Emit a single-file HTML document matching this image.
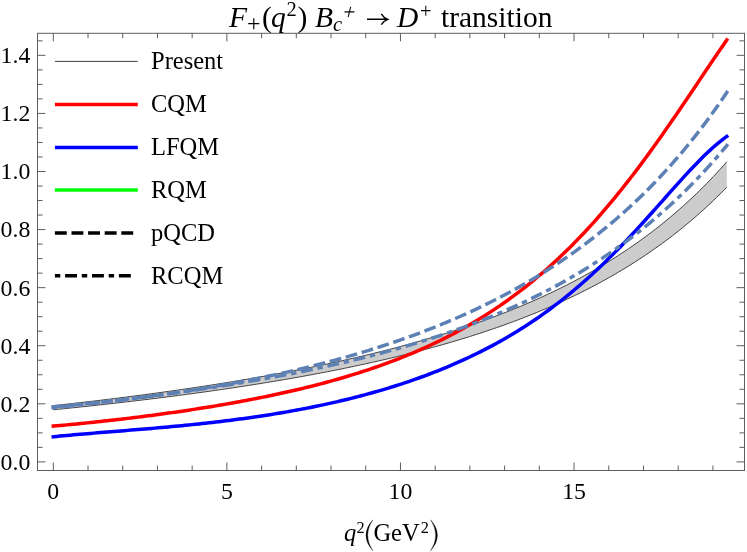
<!DOCTYPE html>
<html><head><meta charset="utf-8"><title>F+(q2) Bc+ to D+ transition</title>
<style>
html,body{margin:0;padding:0;background:#ffffff;}
body{width:747px;height:552px;overflow:hidden;}
svg{display:block;will-change:transform;}
text{font-family:"Liberation Serif",serif;fill:#000;}
</style></head><body>
<svg width="747" height="552" viewBox="0 0 747 552">
<rect x="0" y="0" width="747" height="552" fill="#ffffff"/>
<path d="M53.30,405.67 L56.68,405.30 L60.07,404.93 L63.45,404.55 L66.84,404.17 L70.22,403.79 L73.61,403.41 L76.99,403.02 L80.37,402.63 L83.76,402.24 L87.14,401.84 L90.53,401.45 L93.91,401.04 L97.30,400.64 L100.68,400.23 L104.07,399.82 L107.45,399.41 L110.83,398.99 L114.22,398.57 L117.60,398.15 L120.99,397.73 L124.37,397.30 L127.76,396.86 L131.14,396.43 L134.52,395.99 L137.91,395.55 L141.29,395.10 L144.68,394.65 L148.06,394.20 L151.45,393.74 L154.83,393.28 L158.22,392.82 L161.60,392.35 L164.98,391.88 L168.37,391.41 L171.75,390.93 L175.14,390.45 L178.52,389.96 L181.91,389.47 L185.29,388.98 L188.67,388.48 L192.06,387.98 L195.44,387.47 L198.83,386.96 L202.21,386.45 L205.60,385.93 L208.98,385.41 L212.37,384.88 L215.75,384.35 L219.13,383.81 L222.52,383.27 L225.90,382.73 L229.29,382.18 L232.67,381.62 L236.06,381.06 L239.44,380.50 L242.82,379.93 L246.21,379.36 L249.59,378.78 L252.98,378.19 L256.36,377.60 L259.75,377.01 L263.13,376.41 L266.52,375.80 L269.90,375.19 L273.28,374.58 L276.67,373.95 L280.05,373.33 L283.44,372.69 L286.82,372.05 L290.21,371.41 L293.59,370.76 L296.97,370.10 L300.36,369.44 L303.74,368.77 L307.13,368.09 L310.51,367.41 L313.90,366.72 L317.28,366.02 L320.67,365.32 L324.05,364.61 L327.43,363.89 L330.82,363.17 L334.20,362.44 L337.59,361.70 L340.97,360.95 L344.36,360.20 L347.74,359.44 L351.12,358.67 L354.51,357.89 L357.89,357.10 L361.28,356.31 L364.66,355.51 L368.05,354.70 L371.43,353.88 L374.82,353.05 L378.20,352.21 L381.58,351.36 L384.97,350.51 L388.35,349.64 L391.74,348.77 L395.12,347.88 L398.51,346.99 L401.89,346.09 L405.27,345.17 L408.66,344.25 L412.04,343.31 L415.43,342.36 L418.81,341.40 L422.20,340.44 L425.58,339.46 L428.97,338.46 L432.35,337.46 L435.73,336.44 L439.12,335.42 L442.50,334.38 L445.89,333.32 L449.27,332.26 L452.66,331.18 L456.04,330.08 L459.42,328.98 L462.81,327.86 L466.19,326.72 L469.58,325.57 L472.96,324.41 L476.35,323.23 L479.73,322.04 L483.12,320.83 L486.50,319.60 L489.88,318.36 L493.27,317.10 L496.65,315.83 L500.04,314.54 L503.42,313.23 L506.81,311.90 L510.19,310.55 L513.57,309.19 L516.96,307.81 L520.34,306.41 L523.73,304.99 L527.11,303.54 L530.50,302.08 L533.88,300.60 L537.27,299.10 L540.65,297.57 L544.03,296.02 L547.42,294.45 L550.80,292.86 L554.19,291.24 L557.57,289.60 L560.96,287.94 L564.34,286.25 L567.72,284.53 L571.11,282.79 L574.49,281.02 L577.88,279.23 L581.26,277.41 L584.65,275.56 L588.03,273.68 L591.42,271.77 L594.80,269.83 L598.18,267.86 L601.57,265.86 L604.95,263.82 L608.34,261.76 L611.72,259.66 L615.11,257.52 L618.49,255.36 L621.87,253.15 L625.26,250.91 L628.64,248.63 L632.03,246.31 L635.41,243.96 L638.80,241.56 L642.18,239.13 L645.57,236.65 L648.95,234.13 L652.33,231.56 L655.72,228.96 L659.10,226.30 L662.49,223.60 L665.87,220.85 L669.26,218.05 L672.64,215.21 L676.02,212.31 L679.41,209.35 L682.79,206.35 L686.18,203.29 L689.56,200.17 L692.95,197.00 L696.33,193.77 L699.72,190.47 L703.10,187.12 L706.48,183.70 L709.87,180.22 L713.25,176.67 L716.64,173.05 L720.02,169.37 L723.41,165.61 L726.79,161.78 L726.79,187.27 L723.41,190.71 L720.02,194.10 L716.64,197.42 L713.25,200.68 L709.87,203.88 L706.48,207.02 L703.10,210.11 L699.72,213.14 L696.33,216.12 L692.95,219.04 L689.56,221.91 L686.18,224.74 L682.79,227.51 L679.41,230.24 L676.02,232.91 L672.64,235.55 L669.26,238.13 L665.87,240.68 L662.49,243.18 L659.10,245.63 L655.72,248.05 L652.33,250.42 L648.95,252.76 L645.57,255.06 L642.18,257.32 L638.80,259.54 L635.41,261.73 L632.03,263.88 L628.64,265.99 L625.26,268.07 L621.87,270.12 L618.49,272.14 L615.11,274.12 L611.72,276.07 L608.34,277.99 L604.95,279.88 L601.57,281.75 L598.18,283.58 L594.80,285.38 L591.42,287.16 L588.03,288.91 L584.65,290.63 L581.26,292.33 L577.88,294.00 L574.49,295.65 L571.11,297.27 L567.72,298.87 L564.34,300.44 L560.96,301.99 L557.57,303.52 L554.19,305.03 L550.80,306.51 L547.42,307.98 L544.03,309.42 L540.65,310.84 L537.27,312.24 L533.88,313.63 L530.50,314.99 L527.11,316.33 L523.73,317.66 L520.34,318.96 L516.96,320.25 L513.57,321.52 L510.19,322.78 L506.81,324.01 L503.42,325.23 L500.04,326.44 L496.65,327.62 L493.27,328.80 L489.88,329.95 L486.50,331.09 L483.12,332.22 L479.73,333.33 L476.35,334.43 L472.96,335.51 L469.58,336.58 L466.19,337.64 L462.81,338.68 L459.42,339.71 L456.04,340.73 L452.66,341.73 L449.27,342.72 L445.89,343.70 L442.50,344.67 L439.12,345.62 L435.73,346.57 L432.35,347.50 L428.97,348.42 L425.58,349.33 L422.20,350.23 L418.81,351.12 L415.43,352.00 L412.04,352.87 L408.66,353.73 L405.27,354.58 L401.89,355.41 L398.51,356.24 L395.12,357.06 L391.74,357.87 L388.35,358.68 L384.97,359.47 L381.58,360.25 L378.20,361.03 L374.82,361.79 L371.43,362.55 L368.05,363.30 L364.66,364.04 L361.28,364.78 L357.89,365.50 L354.51,366.22 L351.12,366.93 L347.74,367.64 L344.36,368.33 L340.97,369.02 L337.59,369.70 L334.20,370.38 L330.82,371.05 L327.43,371.71 L324.05,372.36 L320.67,373.01 L317.28,373.65 L313.90,374.29 L310.51,374.92 L307.13,375.54 L303.74,376.16 L300.36,376.77 L296.97,377.37 L293.59,377.97 L290.21,378.56 L286.82,379.15 L283.44,379.73 L280.05,380.31 L276.67,380.88 L273.28,381.45 L269.90,382.01 L266.52,382.56 L263.13,383.12 L259.75,383.66 L256.36,384.20 L252.98,384.74 L249.59,385.27 L246.21,385.80 L242.82,386.32 L239.44,386.84 L236.06,387.35 L232.67,387.86 L229.29,388.36 L225.90,388.86 L222.52,389.36 L219.13,389.85 L215.75,390.34 L212.37,390.82 L208.98,391.30 L205.60,391.77 L202.21,392.25 L198.83,392.71 L195.44,393.18 L192.06,393.64 L188.67,394.09 L185.29,394.55 L181.91,394.99 L178.52,395.44 L175.14,395.88 L171.75,396.32 L168.37,396.75 L164.98,397.19 L161.60,397.61 L158.22,398.04 L154.83,398.46 L151.45,398.88 L148.06,399.30 L144.68,399.71 L141.29,400.12 L137.91,400.52 L134.52,400.93 L131.14,401.33 L127.76,401.72 L124.37,402.12 L120.99,402.51 L117.60,402.90 L114.22,403.28 L110.83,403.67 L107.45,404.05 L104.07,404.42 L100.68,404.80 L97.30,405.17 L93.91,405.54 L90.53,405.91 L87.14,406.27 L83.76,406.63 L80.37,406.99 L76.99,407.35 L73.61,407.71 L70.22,408.06 L66.84,408.41 L63.45,408.75 L60.07,409.10 L56.68,409.44 L53.30,409.78 Z" fill="#cccccc" stroke="none"/>
<path d="M53.30,405.67 L56.68,405.30 L60.07,404.93 L63.45,404.55 L66.84,404.17 L70.22,403.79 L73.61,403.41 L76.99,403.02 L80.37,402.63 L83.76,402.24 L87.14,401.84 L90.53,401.45 L93.91,401.04 L97.30,400.64 L100.68,400.23 L104.07,399.82 L107.45,399.41 L110.83,398.99 L114.22,398.57 L117.60,398.15 L120.99,397.73 L124.37,397.30 L127.76,396.86 L131.14,396.43 L134.52,395.99 L137.91,395.55 L141.29,395.10 L144.68,394.65 L148.06,394.20 L151.45,393.74 L154.83,393.28 L158.22,392.82 L161.60,392.35 L164.98,391.88 L168.37,391.41 L171.75,390.93 L175.14,390.45 L178.52,389.96 L181.91,389.47 L185.29,388.98 L188.67,388.48 L192.06,387.98 L195.44,387.47 L198.83,386.96 L202.21,386.45 L205.60,385.93 L208.98,385.41 L212.37,384.88 L215.75,384.35 L219.13,383.81 L222.52,383.27 L225.90,382.73 L229.29,382.18 L232.67,381.62 L236.06,381.06 L239.44,380.50 L242.82,379.93 L246.21,379.36 L249.59,378.78 L252.98,378.19 L256.36,377.60 L259.75,377.01 L263.13,376.41 L266.52,375.80 L269.90,375.19 L273.28,374.58 L276.67,373.95 L280.05,373.33 L283.44,372.69 L286.82,372.05 L290.21,371.41 L293.59,370.76 L296.97,370.10 L300.36,369.44 L303.74,368.77 L307.13,368.09 L310.51,367.41 L313.90,366.72 L317.28,366.02 L320.67,365.32 L324.05,364.61 L327.43,363.89 L330.82,363.17 L334.20,362.44 L337.59,361.70 L340.97,360.95 L344.36,360.20 L347.74,359.44 L351.12,358.67 L354.51,357.89 L357.89,357.10 L361.28,356.31 L364.66,355.51 L368.05,354.70 L371.43,353.88 L374.82,353.05 L378.20,352.21 L381.58,351.36 L384.97,350.51 L388.35,349.64 L391.74,348.77 L395.12,347.88 L398.51,346.99 L401.89,346.09 L405.27,345.17 L408.66,344.25 L412.04,343.31 L415.43,342.36 L418.81,341.40 L422.20,340.44 L425.58,339.46 L428.97,338.46 L432.35,337.46 L435.73,336.44 L439.12,335.42 L442.50,334.38 L445.89,333.32 L449.27,332.26 L452.66,331.18 L456.04,330.08 L459.42,328.98 L462.81,327.86 L466.19,326.72 L469.58,325.57 L472.96,324.41 L476.35,323.23 L479.73,322.04 L483.12,320.83 L486.50,319.60 L489.88,318.36 L493.27,317.10 L496.65,315.83 L500.04,314.54 L503.42,313.23 L506.81,311.90 L510.19,310.55 L513.57,309.19 L516.96,307.81 L520.34,306.41 L523.73,304.99 L527.11,303.54 L530.50,302.08 L533.88,300.60 L537.27,299.10 L540.65,297.57 L544.03,296.02 L547.42,294.45 L550.80,292.86 L554.19,291.24 L557.57,289.60 L560.96,287.94 L564.34,286.25 L567.72,284.53 L571.11,282.79 L574.49,281.02 L577.88,279.23 L581.26,277.41 L584.65,275.56 L588.03,273.68 L591.42,271.77 L594.80,269.83 L598.18,267.86 L601.57,265.86 L604.95,263.82 L608.34,261.76 L611.72,259.66 L615.11,257.52 L618.49,255.36 L621.87,253.15 L625.26,250.91 L628.64,248.63 L632.03,246.31 L635.41,243.96 L638.80,241.56 L642.18,239.13 L645.57,236.65 L648.95,234.13 L652.33,231.56 L655.72,228.96 L659.10,226.30 L662.49,223.60 L665.87,220.85 L669.26,218.05 L672.64,215.21 L676.02,212.31 L679.41,209.35 L682.79,206.35 L686.18,203.29 L689.56,200.17 L692.95,197.00 L696.33,193.77 L699.72,190.47 L703.10,187.12 L706.48,183.70 L709.87,180.22 L713.25,176.67 L716.64,173.05 L720.02,169.37 L723.41,165.61 L726.79,161.78" fill="none" stroke="#303030" stroke-width="0.9"/>
<path d="M53.30,409.78 L56.68,409.44 L60.07,409.10 L63.45,408.75 L66.84,408.41 L70.22,408.06 L73.61,407.71 L76.99,407.35 L80.37,406.99 L83.76,406.63 L87.14,406.27 L90.53,405.91 L93.91,405.54 L97.30,405.17 L100.68,404.80 L104.07,404.42 L107.45,404.05 L110.83,403.67 L114.22,403.28 L117.60,402.90 L120.99,402.51 L124.37,402.12 L127.76,401.72 L131.14,401.33 L134.52,400.93 L137.91,400.52 L141.29,400.12 L144.68,399.71 L148.06,399.30 L151.45,398.88 L154.83,398.46 L158.22,398.04 L161.60,397.61 L164.98,397.19 L168.37,396.75 L171.75,396.32 L175.14,395.88 L178.52,395.44 L181.91,394.99 L185.29,394.55 L188.67,394.09 L192.06,393.64 L195.44,393.18 L198.83,392.71 L202.21,392.25 L205.60,391.77 L208.98,391.30 L212.37,390.82 L215.75,390.34 L219.13,389.85 L222.52,389.36 L225.90,388.86 L229.29,388.36 L232.67,387.86 L236.06,387.35 L239.44,386.84 L242.82,386.32 L246.21,385.80 L249.59,385.27 L252.98,384.74 L256.36,384.20 L259.75,383.66 L263.13,383.12 L266.52,382.56 L269.90,382.01 L273.28,381.45 L276.67,380.88 L280.05,380.31 L283.44,379.73 L286.82,379.15 L290.21,378.56 L293.59,377.97 L296.97,377.37 L300.36,376.77 L303.74,376.16 L307.13,375.54 L310.51,374.92 L313.90,374.29 L317.28,373.65 L320.67,373.01 L324.05,372.36 L327.43,371.71 L330.82,371.05 L334.20,370.38 L337.59,369.70 L340.97,369.02 L344.36,368.33 L347.74,367.64 L351.12,366.93 L354.51,366.22 L357.89,365.50 L361.28,364.78 L364.66,364.04 L368.05,363.30 L371.43,362.55 L374.82,361.79 L378.20,361.03 L381.58,360.25 L384.97,359.47 L388.35,358.68 L391.74,357.87 L395.12,357.06 L398.51,356.24 L401.89,355.41 L405.27,354.58 L408.66,353.73 L412.04,352.87 L415.43,352.00 L418.81,351.12 L422.20,350.23 L425.58,349.33 L428.97,348.42 L432.35,347.50 L435.73,346.57 L439.12,345.62 L442.50,344.67 L445.89,343.70 L449.27,342.72 L452.66,341.73 L456.04,340.73 L459.42,339.71 L462.81,338.68 L466.19,337.64 L469.58,336.58 L472.96,335.51 L476.35,334.43 L479.73,333.33 L483.12,332.22 L486.50,331.09 L489.88,329.95 L493.27,328.80 L496.65,327.62 L500.04,326.44 L503.42,325.23 L506.81,324.01 L510.19,322.78 L513.57,321.52 L516.96,320.25 L520.34,318.96 L523.73,317.66 L527.11,316.33 L530.50,314.99 L533.88,313.63 L537.27,312.24 L540.65,310.84 L544.03,309.42 L547.42,307.98 L550.80,306.51 L554.19,305.03 L557.57,303.52 L560.96,301.99 L564.34,300.44 L567.72,298.87 L571.11,297.27 L574.49,295.65 L577.88,294.00 L581.26,292.33 L584.65,290.63 L588.03,288.91 L591.42,287.16 L594.80,285.38 L598.18,283.58 L601.57,281.75 L604.95,279.88 L608.34,277.99 L611.72,276.07 L615.11,274.12 L618.49,272.14 L621.87,270.12 L625.26,268.07 L628.64,265.99 L632.03,263.88 L635.41,261.73 L638.80,259.54 L642.18,257.32 L645.57,255.06 L648.95,252.76 L652.33,250.42 L655.72,248.05 L659.10,245.63 L662.49,243.18 L665.87,240.68 L669.26,238.13 L672.64,235.55 L676.02,232.91 L679.41,230.24 L682.79,227.51 L686.18,224.74 L689.56,221.91 L692.95,219.04 L696.33,216.12 L699.72,213.14 L703.10,210.11 L706.48,207.02 L709.87,203.88 L713.25,200.68 L716.64,197.42 L720.02,194.10 L723.41,190.71 L726.79,187.27" fill="none" stroke="#303030" stroke-width="0.9"/>
<path d="M53.30,426.10 L56.68,425.80 L60.07,425.49 L63.45,425.18 L66.84,424.87 L70.22,424.55 L73.61,424.22 L76.99,423.89 L80.37,423.56 L83.76,423.22 L87.14,422.88 L90.53,422.53 L93.91,422.17 L97.30,421.82 L100.68,421.45 L104.07,421.08 L107.45,420.71 L110.83,420.33 L114.22,419.95 L117.60,419.56 L120.99,419.17 L124.37,418.77 L127.76,418.37 L131.14,417.96 L134.52,417.54 L137.91,417.12 L141.29,416.70 L144.68,416.27 L148.06,415.83 L151.45,415.39 L154.83,414.95 L158.22,414.49 L161.60,414.04 L164.98,413.57 L168.37,413.10 L171.75,412.63 L175.14,412.15 L178.52,411.66 L181.91,411.16 L185.29,410.66 L188.67,410.16 L192.06,409.64 L195.44,409.12 L198.83,408.60 L202.21,408.06 L205.60,407.52 L208.98,406.97 L212.37,406.42 L215.75,405.86 L219.13,405.29 L222.52,404.71 L225.90,404.13 L229.29,403.53 L232.67,402.93 L236.06,402.32 L239.44,401.70 L242.82,401.08 L246.21,400.44 L249.59,399.80 L252.98,399.15 L256.36,398.48 L259.75,397.81 L263.13,397.13 L266.52,396.44 L269.90,395.74 L273.28,395.03 L276.67,394.30 L280.05,393.57 L283.44,392.83 L286.82,392.07 L290.21,391.30 L293.59,390.52 L296.97,389.73 L300.36,388.93 L303.74,388.11 L307.13,387.29 L310.51,386.44 L313.90,385.59 L317.28,384.72 L320.67,383.84 L324.05,382.94 L327.43,382.03 L330.82,381.10 L334.20,380.16 L337.59,379.20 L340.97,378.23 L344.36,377.24 L347.74,376.23 L351.12,375.20 L354.51,374.16 L357.89,373.10 L361.28,372.02 L364.66,370.92 L368.05,369.81 L371.43,368.67 L374.82,367.51 L378.20,366.33 L381.58,365.14 L384.97,363.92 L388.35,362.67 L391.74,361.41 L395.12,360.12 L398.51,358.81 L401.89,357.47 L405.27,356.11 L408.66,354.73 L412.04,353.32 L415.43,351.88 L418.81,350.42 L422.20,348.92 L425.58,347.40 L428.97,345.86 L432.35,344.28 L435.73,342.67 L439.12,341.04 L442.50,339.37 L445.89,337.67 L449.27,335.93 L452.66,334.17 L456.04,332.37 L459.42,330.54 L462.81,328.67 L466.19,326.76 L469.58,324.82 L472.96,322.85 L476.35,320.83 L479.73,318.78 L483.12,316.68 L486.50,314.55 L489.88,312.38 L493.27,310.16 L496.65,307.91 L500.04,305.61 L503.42,303.26 L506.81,300.87 L510.19,298.44 L513.57,295.96 L516.96,293.44 L520.34,290.87 L523.73,288.25 L527.11,285.58 L530.50,282.86 L533.88,280.09 L537.27,277.27 L540.65,274.40 L544.03,271.48 L547.42,268.51 L550.80,265.48 L554.19,262.40 L557.57,259.27 L560.96,256.08 L564.34,252.83 L567.72,249.53 L571.11,246.18 L574.49,242.77 L577.88,239.30 L581.26,235.77 L584.65,232.19 L588.03,228.55 L591.42,224.85 L594.80,221.09 L598.18,217.28 L601.57,213.41 L604.95,209.48 L608.34,205.49 L611.72,201.45 L615.11,197.35 L618.49,193.19 L621.87,188.98 L625.26,184.71 L628.64,180.39 L632.03,176.02 L635.41,171.59 L638.80,167.11 L642.18,162.59 L645.57,158.01 L648.95,153.39 L652.33,148.72 L655.72,144.00 L659.10,139.25 L662.49,134.45 L665.87,129.62 L669.26,124.76 L672.64,119.86 L676.02,114.93 L679.41,109.97 L682.79,105.00 L686.18,100.00 L689.56,94.98 L692.95,89.96 L696.33,84.92 L699.72,79.88 L703.10,74.84 L706.48,69.81 L709.87,64.79 L713.25,59.78 L716.64,54.79 L720.02,49.82 L723.41,44.89 L726.79,40.00" fill="none" stroke="#ff0000" stroke-width="3.5" stroke-linecap="square" stroke-linejoin="round"/>
<path d="M53.30,436.72 L56.68,436.40 L60.07,436.08 L63.45,435.76 L66.84,435.46 L70.22,435.15 L73.61,434.85 L76.99,434.56 L80.37,434.26 L83.76,433.98 L87.14,433.69 L90.53,433.41 L93.91,433.13 L97.30,432.85 L100.68,432.57 L104.07,432.30 L107.45,432.02 L110.83,431.75 L114.22,431.48 L117.60,431.21 L120.99,430.93 L124.37,430.66 L127.76,430.38 L131.14,430.11 L134.52,429.83 L137.91,429.55 L141.29,429.27 L144.68,428.99 L148.06,428.70 L151.45,428.41 L154.83,428.12 L158.22,427.83 L161.60,427.53 L164.98,427.23 L168.37,426.92 L171.75,426.61 L175.14,426.29 L178.52,425.97 L181.91,425.64 L185.29,425.31 L188.67,424.98 L192.06,424.63 L195.44,424.28 L198.83,423.93 L202.21,423.57 L205.60,423.20 L208.98,422.82 L212.37,422.44 L215.75,422.05 L219.13,421.65 L222.52,421.25 L225.90,420.84 L229.29,420.42 L232.67,419.99 L236.06,419.55 L239.44,419.10 L242.82,418.65 L246.21,418.18 L249.59,417.71 L252.98,417.23 L256.36,416.74 L259.75,416.24 L263.13,415.73 L266.52,415.20 L269.90,414.67 L273.28,414.13 L276.67,413.58 L280.05,413.01 L283.44,412.44 L286.82,411.85 L290.21,411.26 L293.59,410.65 L296.97,410.03 L300.36,409.40 L303.74,408.75 L307.13,408.10 L310.51,407.43 L313.90,406.74 L317.28,406.05 L320.67,405.34 L324.05,404.62 L327.43,403.89 L330.82,403.14 L334.20,402.37 L337.59,401.60 L340.97,400.81 L344.36,400.00 L347.74,399.18 L351.12,398.34 L354.51,397.49 L357.89,396.62 L361.28,395.74 L364.66,394.84 L368.05,393.93 L371.43,392.99 L374.82,392.04 L378.20,391.08 L381.58,390.09 L384.97,389.09 L388.35,388.07 L391.74,387.03 L395.12,385.97 L398.51,384.89 L401.89,383.79 L405.27,382.67 L408.66,381.54 L412.04,380.38 L415.43,379.20 L418.81,377.99 L422.20,376.77 L425.58,375.52 L428.97,374.25 L432.35,372.96 L435.73,371.64 L439.12,370.30 L442.50,368.94 L445.89,367.54 L449.27,366.13 L452.66,364.68 L456.04,363.21 L459.42,361.71 L462.81,360.18 L466.19,358.63 L469.58,357.04 L472.96,355.43 L476.35,353.78 L479.73,352.11 L483.12,350.40 L486.50,348.66 L489.88,346.88 L493.27,345.08 L496.65,343.23 L500.04,341.36 L503.42,339.44 L506.81,337.49 L510.19,335.51 L513.57,333.48 L516.96,331.42 L520.34,329.32 L523.73,327.17 L527.11,324.99 L530.50,322.76 L533.88,320.50 L537.27,318.19 L540.65,315.83 L544.03,313.43 L547.42,310.99 L550.80,308.50 L554.19,305.97 L557.57,303.39 L560.96,300.76 L564.34,298.08 L567.72,295.36 L571.11,292.59 L574.49,289.77 L577.88,286.90 L581.26,283.98 L584.65,281.01 L588.03,277.99 L591.42,274.93 L594.80,271.81 L598.18,268.65 L601.57,265.44 L604.95,262.18 L608.34,258.87 L611.72,255.52 L615.11,252.12 L618.49,248.68 L621.87,245.19 L625.26,241.66 L628.64,238.10 L632.03,234.49 L635.41,230.86 L638.80,227.18 L642.18,223.48 L645.57,219.75 L648.95,216.00 L652.33,212.23 L655.72,208.44 L659.10,204.63 L662.49,200.83 L665.87,197.02 L669.26,193.21 L672.64,189.41 L676.02,185.63 L679.41,181.87 L682.79,178.14 L686.18,174.44 L689.56,170.79 L692.95,167.20 L696.33,163.67 L699.72,160.20 L703.10,156.83 L706.48,153.54 L709.87,150.36 L713.25,147.29 L716.64,144.34 L720.02,141.54 L723.41,138.89 L726.79,136.40" fill="none" stroke="#0000ff" stroke-width="3.5" stroke-linecap="square" stroke-linejoin="round"/>
<path d="M51.51,406.90 L53.30,406.75 L56.68,406.45 L60.07,406.15 L63.45,405.85 L66.84,405.54 L70.22,405.23 L73.61,404.91 L76.99,404.58 L80.37,404.25 L83.76,403.92 L87.14,403.57 L90.53,403.23 L93.91,402.88 L97.30,402.52 L100.68,402.16 L104.07,401.79 L107.45,401.42 L110.83,401.04 L114.22,400.65 L117.60,400.26 L120.99,399.87 L124.37,399.47 L127.76,399.06 L131.14,398.65 L134.52,398.23 L137.91,397.80 L141.29,397.37 L144.68,396.93 L148.06,396.49 L151.45,396.04 L154.83,395.58 L158.22,395.12 L161.60,394.65 L164.98,394.18 L168.37,393.69 L171.75,393.21 L175.14,392.71 L178.52,392.21 L181.91,391.70 L185.29,391.18 L188.67,390.66 L192.06,390.13 L195.44,389.60 L198.83,389.05 L202.21,388.50 L205.60,387.94 L208.98,387.38 L212.37,386.80 L215.75,386.22 L219.13,385.63 L222.52,385.04 L225.90,384.43 L229.29,383.82 L232.67,383.20 L236.06,382.57 L239.44,381.94 L242.82,381.29 L246.21,380.64 L249.59,379.98 L252.98,379.31 L256.36,378.63 L259.75,377.94 L263.13,377.25 L266.52,376.54 L269.90,375.83 L273.28,375.10 L276.67,374.37 L280.05,373.63 L283.44,372.88 L286.82,372.11 L290.21,371.34 L293.59,370.56 L296.97,369.77 L300.36,368.97 L303.74,368.16 L307.13,367.33 L310.51,366.50 L313.90,365.66 L317.28,364.80 L320.67,363.94 L324.05,363.06 L327.43,362.17 L330.82,361.27 L334.20,360.36 L337.59,359.44 L340.97,358.50 L344.36,357.56 L347.74,356.60 L351.12,355.63 L354.51,354.64 L357.89,353.64 L361.28,352.63 L364.66,351.61 L368.05,350.57 L371.43,349.52 L374.82,348.46 L378.20,347.38 L381.58,346.29 L384.97,345.19 L388.35,344.07 L391.74,342.93 L395.12,341.78 L398.51,340.61 L401.89,339.43 L405.27,338.24 L408.66,337.03 L412.04,335.80 L415.43,334.55 L418.81,333.29 L422.20,332.01 L425.58,330.72 L428.97,329.41 L432.35,328.08 L435.73,326.73 L439.12,325.36 L442.50,323.98 L445.89,322.58 L449.27,321.15 L452.66,319.71 L456.04,318.25 L459.42,316.77 L462.81,315.27 L466.19,313.75 L469.58,312.21 L472.96,310.64 L476.35,309.06 L479.73,307.45 L483.12,305.82 L486.50,304.17 L489.88,302.49 L493.27,300.79 L496.65,299.07 L500.04,297.32 L503.42,295.55 L506.81,293.75 L510.19,291.93 L513.57,290.08 L516.96,288.21 L520.34,286.31 L523.73,284.38 L527.11,282.42 L530.50,280.44 L533.88,278.42 L537.27,276.38 L540.65,274.31 L544.03,272.20 L547.42,270.07 L550.80,267.90 L554.19,265.71 L557.57,263.48 L560.96,261.21 L564.34,258.92 L567.72,256.59 L571.11,254.22 L574.49,251.82 L577.88,249.38 L581.26,246.91 L584.65,244.39 L588.03,241.84 L591.42,239.25 L594.80,236.62 L598.18,233.95 L601.57,231.24 L604.95,228.48 L608.34,225.69 L611.72,222.84 L615.11,219.96 L618.49,217.03 L621.87,214.05 L625.26,211.02 L628.64,207.95 L632.03,204.82 L635.41,201.65 L638.80,198.42 L642.18,195.15 L645.57,191.82 L648.95,188.43 L652.33,184.99 L655.72,181.49 L659.10,177.94 L662.49,174.32 L665.87,170.65 L669.26,166.91 L672.64,163.11 L676.02,159.25 L679.41,155.32 L682.79,151.32 L686.18,147.25 L689.56,143.12 L692.95,138.91 L696.33,134.63 L699.72,130.28 L703.10,125.85 L706.48,121.34 L709.87,116.76 L713.25,112.09 L716.64,107.34 L720.02,102.50 L723.41,97.58 L726.79,92.57 L727.80,91.08" fill="none" stroke="#5e81b5" stroke-width="3.5" stroke-dasharray="11.9 4.7" stroke-linejoin="round"/>
<path d="M51.51,408.06 L53.30,407.86 L56.68,407.50 L60.07,407.13 L63.45,406.76 L66.84,406.38 L70.22,406.01 L73.61,405.63 L76.99,405.25 L80.37,404.87 L83.76,404.48 L87.14,404.09 L90.53,403.70 L93.91,403.31 L97.30,402.91 L100.68,402.51 L104.07,402.11 L107.45,401.71 L110.83,401.30 L114.22,400.89 L117.60,400.47 L120.99,400.06 L124.37,399.64 L127.76,399.21 L131.14,398.79 L134.52,398.36 L137.91,397.93 L141.29,397.49 L144.68,397.05 L148.06,396.61 L151.45,396.16 L154.83,395.71 L158.22,395.26 L161.60,394.80 L164.98,394.34 L168.37,393.87 L171.75,393.40 L175.14,392.93 L178.52,392.45 L181.91,391.97 L185.29,391.49 L188.67,391.00 L192.06,390.50 L195.44,390.00 L198.83,389.50 L202.21,388.99 L205.60,388.48 L208.98,387.96 L212.37,387.44 L215.75,386.91 L219.13,386.38 L222.52,385.85 L225.90,385.30 L229.29,384.76 L232.67,384.20 L236.06,383.65 L239.44,383.08 L242.82,382.51 L246.21,381.94 L249.59,381.36 L252.98,380.77 L256.36,380.18 L259.75,379.58 L263.13,378.97 L266.52,378.36 L269.90,377.75 L273.28,377.12 L276.67,376.49 L280.05,375.85 L283.44,375.21 L286.82,374.56 L290.21,373.90 L293.59,373.23 L296.97,372.56 L300.36,371.88 L303.74,371.19 L307.13,370.50 L310.51,369.80 L313.90,369.08 L317.28,368.37 L320.67,367.64 L324.05,366.90 L327.43,366.16 L330.82,365.41 L334.20,364.64 L337.59,363.87 L340.97,363.10 L344.36,362.31 L347.74,361.51 L351.12,360.70 L354.51,359.88 L357.89,359.06 L361.28,358.22 L364.66,357.37 L368.05,356.52 L371.43,355.65 L374.82,354.77 L378.20,353.88 L381.58,352.98 L384.97,352.07 L388.35,351.15 L391.74,350.21 L395.12,349.27 L398.51,348.31 L401.89,347.34 L405.27,346.36 L408.66,345.36 L412.04,344.35 L415.43,343.33 L418.81,342.30 L422.20,341.25 L425.58,340.19 L428.97,339.11 L432.35,338.02 L435.73,336.92 L439.12,335.80 L442.50,334.66 L445.89,333.52 L449.27,332.35 L452.66,331.17 L456.04,329.98 L459.42,328.76 L462.81,327.53 L466.19,326.29 L469.58,325.03 L472.96,323.75 L476.35,322.45 L479.73,321.13 L483.12,319.80 L486.50,318.45 L489.88,317.08 L493.27,315.69 L496.65,314.28 L500.04,312.84 L503.42,311.39 L506.81,309.92 L510.19,308.43 L513.57,306.92 L516.96,305.38 L520.34,303.82 L523.73,302.25 L527.11,300.64 L530.50,299.02 L533.88,297.37 L537.27,295.69 L540.65,293.99 L544.03,292.27 L547.42,290.52 L550.80,288.75 L554.19,286.94 L557.57,285.12 L560.96,283.26 L564.34,281.38 L567.72,279.46 L571.11,277.52 L574.49,275.55 L577.88,273.55 L581.26,271.52 L584.65,269.46 L588.03,267.37 L591.42,265.24 L594.80,263.08 L598.18,260.89 L601.57,258.67 L604.95,256.41 L608.34,254.11 L611.72,251.78 L615.11,249.42 L618.49,247.01 L621.87,244.57 L625.26,242.09 L628.64,239.57 L632.03,237.01 L635.41,234.41 L638.80,231.76 L642.18,229.08 L645.57,226.35 L648.95,223.58 L652.33,220.76 L655.72,217.90 L659.10,214.99 L662.49,212.03 L665.87,209.03 L669.26,205.98 L672.64,202.87 L676.02,199.72 L679.41,196.51 L682.79,193.25 L686.18,189.94 L689.56,186.57 L692.95,183.14 L696.33,179.66 L699.72,176.12 L703.10,172.52 L706.48,168.86 L709.87,165.14 L713.25,161.36 L716.64,157.51 L720.02,153.59 L723.41,149.61 L726.79,145.56 L727.94,144.18" fill="none" stroke="#5e81b5" stroke-width="3.5" stroke-dasharray="5.4 4.8 11.9 4.8" stroke-linejoin="round"/>
<rect x="37.5" y="33.3" width="707.0" height="437.2" fill="none" stroke="#5e5e5e" stroke-width="1"/>
<path d="M53.30,470.50 v-8.00 M53.30,33.30 v8.00 M88.02,470.50 v-5.00 M88.02,33.30 v5.00 M122.73,470.50 v-5.00 M122.73,33.30 v5.00 M157.45,470.50 v-5.00 M157.45,33.30 v5.00 M192.16,470.50 v-5.00 M192.16,33.30 v5.00 M226.88,470.50 v-8.00 M226.88,33.30 v8.00 M261.60,470.50 v-5.00 M261.60,33.30 v5.00 M296.31,470.50 v-5.00 M296.31,33.30 v5.00 M331.03,470.50 v-5.00 M331.03,33.30 v5.00 M365.74,470.50 v-5.00 M365.74,33.30 v5.00 M400.46,470.50 v-8.00 M400.46,33.30 v8.00 M435.18,470.50 v-5.00 M435.18,33.30 v5.00 M469.89,470.50 v-5.00 M469.89,33.30 v5.00 M504.61,470.50 v-5.00 M504.61,33.30 v5.00 M539.32,470.50 v-5.00 M539.32,33.30 v5.00 M574.04,470.50 v-8.00 M574.04,33.30 v8.00 M608.76,470.50 v-5.00 M608.76,33.30 v5.00 M643.47,470.50 v-5.00 M643.47,33.30 v5.00 M678.19,470.50 v-5.00 M678.19,33.30 v5.00 M712.90,470.50 v-5.00 M712.90,33.30 v5.00 M37.50,461.90 h8.00 M744.50,461.90 h-8.00 M37.50,447.38 h5.00 M744.50,447.38 h-5.00 M37.50,432.86 h5.00 M744.50,432.86 h-5.00 M37.50,418.34 h5.00 M744.50,418.34 h-5.00 M37.50,403.82 h8.00 M744.50,403.82 h-8.00 M37.50,389.30 h5.00 M744.50,389.30 h-5.00 M37.50,374.78 h5.00 M744.50,374.78 h-5.00 M37.50,360.26 h5.00 M744.50,360.26 h-5.00 M37.50,345.74 h8.00 M744.50,345.74 h-8.00 M37.50,331.22 h5.00 M744.50,331.22 h-5.00 M37.50,316.70 h5.00 M744.50,316.70 h-5.00 M37.50,302.18 h5.00 M744.50,302.18 h-5.00 M37.50,287.66 h8.00 M744.50,287.66 h-8.00 M37.50,273.14 h5.00 M744.50,273.14 h-5.00 M37.50,258.62 h5.00 M744.50,258.62 h-5.00 M37.50,244.10 h5.00 M744.50,244.10 h-5.00 M37.50,229.58 h8.00 M744.50,229.58 h-8.00 M37.50,215.06 h5.00 M744.50,215.06 h-5.00 M37.50,200.54 h5.00 M744.50,200.54 h-5.00 M37.50,186.02 h5.00 M744.50,186.02 h-5.00 M37.50,171.50 h8.00 M744.50,171.50 h-8.00 M37.50,156.98 h5.00 M744.50,156.98 h-5.00 M37.50,142.46 h5.00 M744.50,142.46 h-5.00 M37.50,127.94 h5.00 M744.50,127.94 h-5.00 M37.50,113.42 h8.00 M744.50,113.42 h-8.00 M37.50,98.90 h5.00 M744.50,98.90 h-5.00 M37.50,84.38 h5.00 M744.50,84.38 h-5.00 M37.50,69.86 h5.00 M744.50,69.86 h-5.00 M37.50,55.34 h8.00 M744.50,55.34 h-8.00 M37.50,40.82 h5.00 M744.50,40.82 h-5.00" fill="none" stroke="#5e5e5e" stroke-width="1"/>
<line x1="54.9" x2="137.8" y1="61.4" y2="61.4" stroke="#2a2a2a" stroke-width="0.9"/>
<line x1="54.9" x2="137.8" y1="104.4" y2="104.4" stroke="#ff0000" stroke-width="3.5"/>
<line x1="54.9" x2="137.8" y1="147.4" y2="147.4" stroke="#0000ff" stroke-width="3.5"/>
<line x1="54.9" x2="137.8" y1="190.0" y2="190.0" stroke="#00ff00" stroke-width="3.5"/>
<line x1="54.9" x2="137.8" y1="233.0" y2="233.0" stroke="#000" stroke-width="3.5" stroke-dasharray="11.9 4.7"/>
<line x1="54.9" x2="131.0" y1="275.8" y2="275.8" stroke="#000" stroke-width="3.5" stroke-dasharray="5.4 4.8 11.9 4.8"/>
<path d="M367,19.3 H387 M381.3,13.9 Q383.3,17.6 387.8,19.3 Q383.3,21 381.3,24.7" fill="none" stroke="#000" stroke-width="1.4"/>
<path d="M372.8,519.8 Q359.0,535.2 372.8,550.8 Q362.6,535.2 372.8,519.8 Z" fill="#000" stroke="#000" stroke-width="0.3"/>
<path d="M430.6,519.8 Q444.4,535.2 430.6,550.8 Q440.8,535.2 430.6,519.8 Z" fill="#000" stroke="#000" stroke-width="0.3"/>
<text x="30.3" y="469.80" text-anchor="end" font-size="23.8">0.0</text>
<text x="30.3" y="411.72" text-anchor="end" font-size="23.8">0.2</text>
<text x="30.3" y="353.64" text-anchor="end" font-size="23.8">0.4</text>
<text x="30.3" y="295.56" text-anchor="end" font-size="23.8">0.6</text>
<text x="30.3" y="237.48" text-anchor="end" font-size="23.8">0.8</text>
<text x="30.3" y="179.40" text-anchor="end" font-size="23.8">1.0</text>
<text x="30.3" y="121.32" text-anchor="end" font-size="23.8">1.2</text>
<text x="30.3" y="63.24" text-anchor="end" font-size="23.8">1.4</text>
<text x="53.30" y="498.9" text-anchor="middle" font-size="23.8">0</text>
<text x="226.88" y="498.9" text-anchor="middle" font-size="23.8">5</text>
<text x="400.46" y="498.9" text-anchor="middle" font-size="23.8">10</text>
<text x="574.04" y="498.9" text-anchor="middle" font-size="23.8">15</text>
<text x="151.0" y="69.10" font-size="24.5">Present</text>
<text x="151.0" y="112.30" font-size="24.5">CQM</text>
<text x="151.0" y="155.30" font-size="24.5">LFQM</text>
<text x="151.0" y="197.90" font-size="24.5">RQM</text>
<text x="151.0" y="240.90" font-size="24.5">pQCD</text>
<text x="151.0" y="283.70" font-size="24.5">RCQM</text>
<text id="t0" x="229.00" y="26.50" font-size="29.5" font-style="italic">F</text>
<text id="t1" x="247.00" y="31.00" font-size="24">+</text>
<text id="t2" x="262.00" y="26.50" font-size="29.5">(</text>
<text id="t3" x="271.00" y="26.50" font-size="29.5" font-style="italic">q</text>
<text id="t4" x="286.50" y="16.20" font-size="20.5">2</text>
<text id="t5" x="297.50" y="26.50" font-size="29.5">)</text>
<text id="t6" x="315.00" y="26.50" font-size="29.5" font-style="italic">B</text>
<text id="t7" x="333.00" y="31.00" font-size="20.5" font-style="italic">c</text>
<text id="t8" x="340.20" y="18.60" font-size="21.5" font-style="italic" transform="translate(340.20,18.60) skewX(-14) translate(-340.20,-18.60)">+</text>
<text id="t9" x="397.00" y="26.50" font-size="29.5" font-style="italic">D</text>
<text id="t10" x="420.00" y="18.00" font-size="20.5">+</text>
<text id="t11" x="441.00" y="26.50" font-size="29.5">transition</text>
<text id="x0" x="344.00" y="540.70" font-size="24.5" font-style="italic">q</text>
<text id="x1" x="356.60" y="532.80" font-size="16.3">2</text>
<text id="x2" x="373.40" y="540.70" font-size="24.5">GeV</text>
<text id="x3" x="420.70" y="532.80" font-size="16.3">2</text>
</svg>
</body></html>
